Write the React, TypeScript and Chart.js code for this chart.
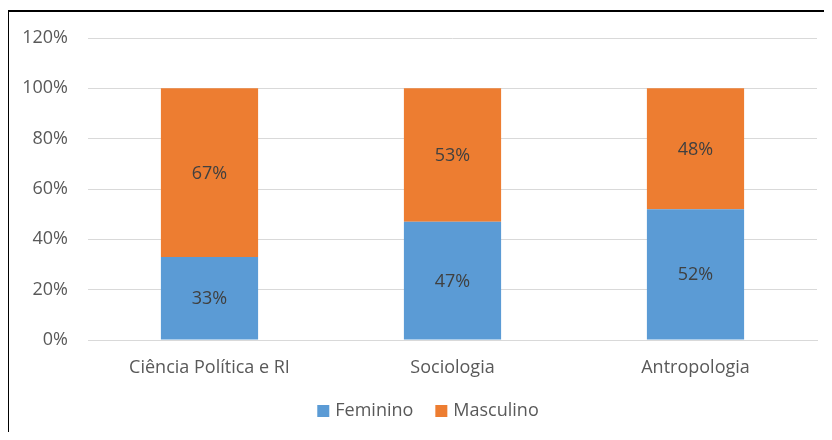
import React, { useEffect, useRef } from "react";
import { Chart, registerables } from "chart.js";

Chart.register(...registerables);

const categories = ["Ciência Política e RI", "Sociologia", "Antropologia"];
const feminino = [33, 47, 52];
const masculino = [67, 53, 48];
const yTicks = [0, 20, 40, 60, 80, 100, 120];

const FONT = "'Open Sans', 'Noto Sans', sans-serif";

const dataLabelPlugin = {
  id: "dataLabels",
  afterDatasetsDraw(chart: any) {
    const ctx = chart.ctx;
    ctx.save();
    ctx.font = `18px ${FONT}`;
    ctx.fillStyle = "#404040";
    ctx.textAlign = "center";
    ctx.textBaseline = "middle";
    chart.data.datasets.forEach((ds: any, i: number) => {
      const meta = chart.getDatasetMeta(i);
      meta.data.forEach((bar: any, j: number) => {
        const cy = (bar.y + bar.base) / 2 + 1;
        ctx.fillText(ds.data[j] + "%", bar.x, cy);
      });
    });
    ctx.restore();
  },
};

const legendPlugin = {
  id: "customLegend",
  afterDraw(chart: any) {
    const ctx = chart.ctx;
    ctx.save();
    ctx.font = `18px ${FONT}`;
    ctx.textBaseline = "middle";
    ctx.textAlign = "left";
    const box = 12;
    const gap = 6;
    const itemGap = 22;
    const items = chart.data.datasets.map((ds: any) => ({
      label: ds.label,
      color: ds.backgroundColor,
      w: box + gap + ctx.measureText(ds.label).width,
    }));
    const total = items.reduce((s: number, it: any) => s + it.w, 0) + itemGap * (items.length - 1);
    const cx = 428;
    const cy = 411;
    let x = cx - total / 2;
    items.forEach((it: any) => {
      ctx.fillStyle = it.color;
      ctx.fillRect(x, cy - box / 2, box, box);
      ctx.fillStyle = "#595959";
      ctx.fillText(it.label, x + box + gap, cy);
      x += it.w + itemGap;
    });
    ctx.restore();
  },
};

export default function App() {
  const ref = useRef<HTMLCanvasElement>(null);
  useEffect(() => {
    document.documentElement.style.overflow = "hidden";
    document.body.style.overflow = "hidden";
    const chart = new Chart(ref.current!, {
      type: "bar",
      data: {
        labels: categories,
        datasets: [
          { label: "Feminino", data: feminino, backgroundColor: "#5B9BD5", barPercentage: 0.8, categoryPercentage: 0.5 },
          { label: "Masculino", data: masculino, backgroundColor: "#ED7D31", barPercentage: 0.8, categoryPercentage: 0.5 },
        ],
      },
      options: {
        responsive: false,
        animation: false,
        layout: { padding: { top: 38, right: 15, left: 0, bottom: 55 } },
        plugins: {
          tooltip: { enabled: false },
          legend: { display: false },
        },
        scales: {
          x: {
            stacked: true,
            grid: { display: false, drawTicks: false },
            border: { display: true, color: "#d9d9d9", width: 1 },
            ticks: { color: "#595959", font: { family: FONT, size: 18 }, padding: 17, maxRotation: 0 },
            afterFit(scale: any) { scale.height = 45; },
          },
          y: {
            stacked: true,
            min: 0,
            max: 120,
            grid: { color: "#d9d9d9", lineWidth: 1, drawTicks: false },
            border: { display: false },
            ticks: {
              stepSize: 20,
              padding: 20,
              color: "#595959",
              font: { family: FONT, size: 18 },
              callback: (v: any) => v + "%",
            },
            afterBuildTicks(scale: any) { scale.ticks = yTicks.map((v) => ({ value: v })); },
            afterFit(scale: any) { scale.width = 88; },
          },
        },
      },
      plugins: [dataLabelPlugin, legendPlugin],
    });
    return () => chart.destroy();
  }, []);
  return (
    <div style={{ position: "relative", width: 832, height: 440, overflow: "hidden", margin: -8, background: "#fff" }}>
      <canvas ref={ref} width={832} height={440} style={{ position: "absolute", left: 0, top: 0 }} />
      <div style={{ position: "absolute", left: 7, top: 10, width: 900, height: 500, border: "2px solid #000", pointerEvents: "none" }} />
    </div>
  );
}
